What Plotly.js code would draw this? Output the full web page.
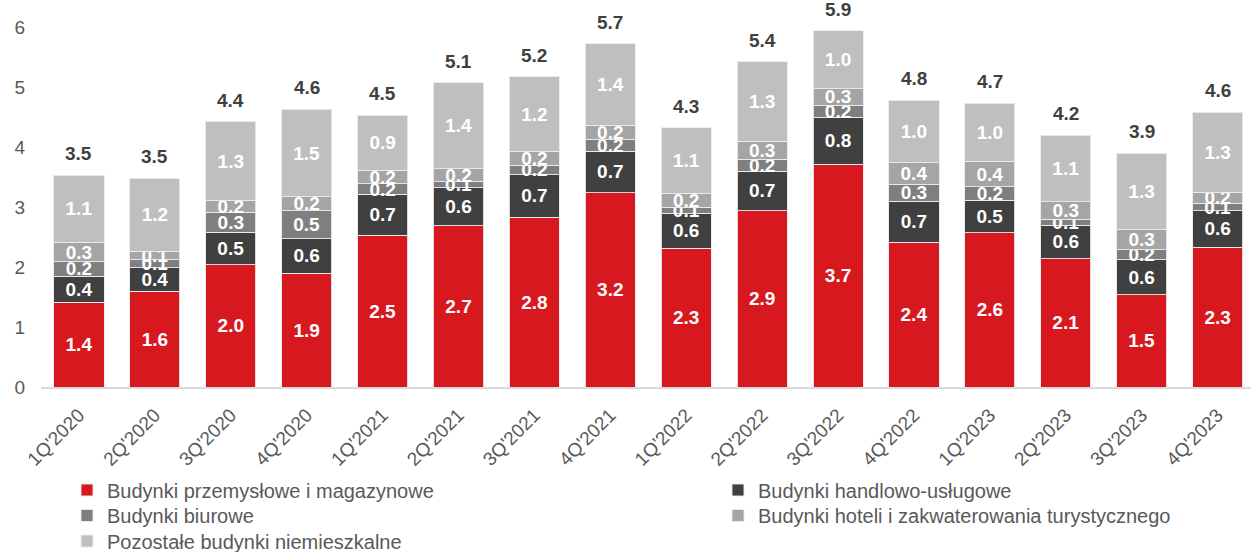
<!DOCTYPE html>
<html>
<head>
<meta charset="utf-8">
<script src="https://cdn.plot.ly/plotly-3.0.1.min.js"></script>
<style>
  html, body { margin: 0; padding: 0; background: #ffffff; }
  #chart { width: 1251px; height: 552px; }
</style>
</head>
<body>
<div id="chart"></div>
<script>
// Categories (quarters)
const quarters = ["1Q'2020","2Q'2020","3Q'2020","4Q'2020","1Q'2021","2Q'2021","3Q'2021","4Q'2021",
                  "1Q'2022","2Q'2022","3Q'2022","4Q'2022","1Q'2023","2Q'2023","3Q'2023","4Q'2023"];

// Series values
const przemyslowe = [1.41,1.60,2.04,1.90,2.53,2.69,2.83,3.24,2.31,2.94,3.71,2.41,2.57,2.14,1.54,2.33];
const handlowe    = [0.44,0.39,0.54,0.57,0.68,0.63,0.71,0.69,0.59,0.66,0.79,0.69,0.54,0.56,0.58,0.61];
const biurowe     = [0.24,0.13,0.33,0.47,0.18,0.10,0.16,0.20,0.10,0.20,0.20,0.28,0.23,0.10,0.17,0.12];
const hotele      = [0.32,0.14,0.20,0.23,0.22,0.22,0.23,0.23,0.23,0.30,0.27,0.36,0.42,0.29,0.33,0.19];
const pozostale   = [1.12,1.22,1.31,1.46,0.92,1.43,1.24,1.36,1.09,1.32,0.97,1.04,0.97,1.11,1.28,1.33];

const seriesNames = [
  "Budynki przemysłowe i magazynowe",
  "Budynki handlowo-usługowe",
  "Budynki biurowe",
  "Budynki hoteli i zakwaterowania turystycznego",
  "Pozostałe budynki niemieszkalne"
];
const yTickVals = [0,1,2,3,4,5,6];

const totals = quarters.map((q, i) =>
  przemyslowe[i] + handlowe[i] + biurowe[i] + hotele[i] + pozostale[i]);

const FONT = "Liberation Sans, Arial, Helvetica, sans-serif";
const colors = ["#D7191F", "#404040", "#7F7F7F", "#A5A5A5", "#BFBFBF"];
const seriesData = [przemyslowe, handlowe, biurowe, hotele, pozostale];
const legendIds = ["legend", "legend2", "legend3", "legend4", "legend5"];

const traces = seriesData.map((vals, k) => ({
  type: "bar",
  name: seriesNames[k],
  x: quarters,
  y: vals,
  legend: legendIds[k],
  marker: { color: colors[k], line: { color: "rgba(235,235,235,0.9)", width: 1 } },
  text: vals.map(v => v.toFixed(1)),
  textposition: "inside",
  insidetextanchor: "middle",
  textangle: 0,
  constraintext: "none",
  textfont: { family: FONT, size: 19, color: "#ffffff", weight: "bold" },
  hoverinfo: "skip",
  cliponaxis: false
}));

const annotations = quarters.map((q, i) => ({
  x: q, y: totals[i], xref: "x", yref: "y",
  text: totals[i].toFixed(1),
  showarrow: false,
  yanchor: "bottom",
  yshift: 9,
  font: { family: FONT, size: 19, color: "#404040", weight: "bold" }
}));

// legend grid: two columns, three rows (container coordinates)
function legendBox(col, row) {
  const leftPx = col === 0 ? 67 : 718;
  const rowPx = [490, 515.5, 541][row];
  return {
    orientation: "v",
    xref: "container", yref: "container",
    x: leftPx / 1251, xanchor: "left",
    y: 1 - rowPx / 552, yanchor: "middle",
    font: { family: FONT, size: 20, color: "#595959" },
    bgcolor: "rgba(0,0,0,0)",
    borderwidth: 0,
    itemwidth: 30
  };
}

const layout = {
  width: 1251,
  height: 552,
  margin: { l: 41.4, r: 0, t: 27, b: 165, autoexpand: false },
  paper_bgcolor: "#ffffff",
  plot_bgcolor: "#ffffff",
  barmode: "stack",
  bargap: 0.34,
  font: { family: FONT, color: "#595959", size: 19 },
  uniformtext: { mode: "show", minsize: 19 },
  xaxis: {
    type: "category",
    range: [-0.5, 15.44],
    tickangle: -45,
    showgrid: false,
    showline: true,
    linecolor: "#D9D9D9",
    linewidth: 1.5,
    ticks: "",
    ticklabelstandoff: 8,
    tickfont: { family: FONT, size: 19, color: "#595959" },
    fixedrange: true
  },
  yaxis: {
    range: [0, 6],
    tickvals: yTickVals,
    ticktext: yTickVals.map(String),
    showgrid: false,
    zeroline: false,
    showline: false,
    ticks: "",
    ticklabelstandoff: 15,
    tickfont: { family: FONT, size: 19, color: "#595959" },
    fixedrange: true
  },
  showlegend: true,
  legend: legendBox(0, 0),
  legend2: legendBox(1, 0),
  legend3: legendBox(0, 1),
  legend4: legendBox(1, 1),
  legend5: legendBox(0, 2),
  annotations: annotations
};

Plotly.newPlot("chart", traces, layout, { displayModeBar: false, staticPlot: true });
</script>
</body>
</html>
